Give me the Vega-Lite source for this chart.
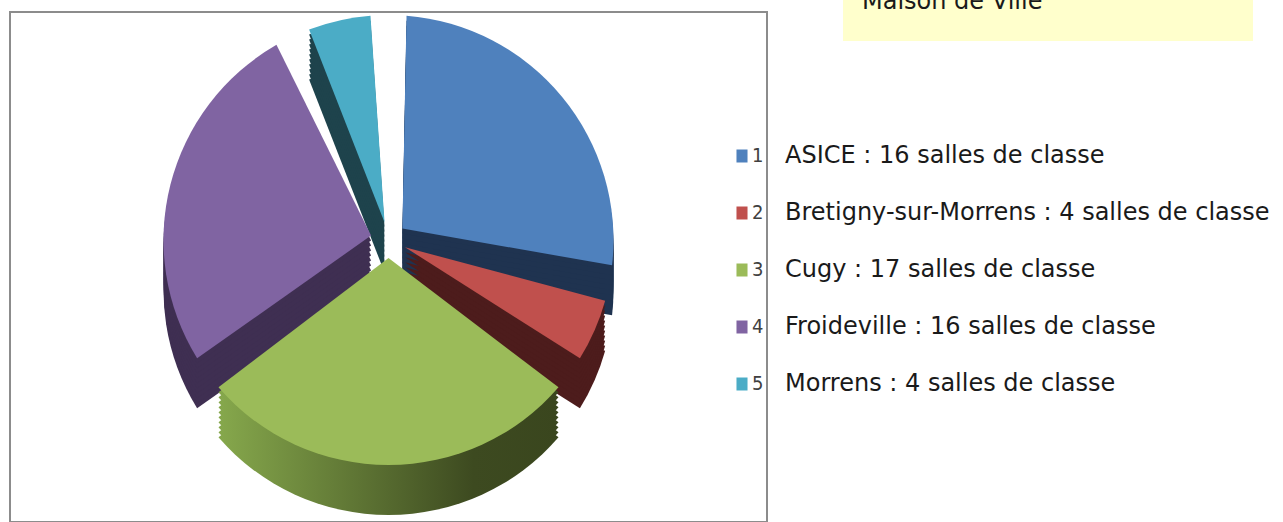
{
  "$schema": "https://vega.github.io/schema/vega-lite/v6.json",
  "width": 757,
  "height": 510,
  "autosize": {"type": "none"},
  "padding": {"left": 10, "top": 12, "right": 516, "bottom": 0},
  "background": "white",
  "view": {"stroke": "#8c8c8c", "strokeWidth": 2},
  "data": {
    "values": [
      {"num": "1", "label": "ASICE : 16 salles de classe", "value": 16},
      {"num": "2", "label": "Bretigny-sur-Morrens : 4 salles de classe", "value": 4},
      {"num": "3", "label": "Cugy : 17 salles de classe", "value": 17},
      {"num": "4", "label": "Froideville : 16 salles de classe", "value": 16},
      {"num": "5", "label": "Morrens : 4 salles de classe", "value": 4}
    ]
  },
  "encoding": {
    "theta": {"field": "value", "type": "quantitative", "stack": true},
    "order": {"field": "num", "type": "ordinal"}
  },
  "layer": [
    {
      "mark": {"type": "arc", "outerRadius": 225, "innerRadius": 18, "padAngle": 0.16, "yOffset": 23},
      "encoding": {
        "fill": {
          "field": "label", "type": "nominal",
          "condition": {"test": "datum.num === '3'", "value": {"gradient": "linear", "x1": 0, "y1": 0, "x2": 1, "y2": 0, "stops": [{"offset": 0, "color": "#86A84C"}, {"offset": 0.75, "color": "#3D4A20"}, {"offset": 1, "color": "#3A461E"}]}},
          "scale": {"domain": ["ASICE : 16 salles de classe", "Bretigny-sur-Morrens : 4 salles de classe", "Cugy : 17 salles de classe", "Froideville : 16 salles de classe", "Morrens : 4 salles de classe"], "range": ["#1F3350", "#4D1C1C", "#5A7232", "#3F2F52", "#1E434C"]},
          "legend": {"title": null, "orient": "none", "legendX": 751, "legendY": 132, "symbolOpacity": 0, "symbolSize": 0, "symbolStrokeWidth": 0, "labelOffset": 0, "labelFont": "DejaVu Sans", "labelFontSize": 24, "labelColor": "#1a1a1a", "labelLimit": 800, "rowPadding": 33}
        }
      }
    },
    {
      "mark": {"type": "arc", "outerRadius": 225, "innerRadius": 18, "padAngle": 0.16, "yOffset": 18},
      "encoding": {"fill": {"field": "label", "type": "nominal", "condition": {"test": "datum.num === '3'", "value": {"gradient": "linear", "x1": 0, "y1": 0, "x2": 1, "y2": 0, "stops": [{"offset": 0, "color": "#86A84C"}, {"offset": 0.75, "color": "#3D4A20"}, {"offset": 1, "color": "#3A461E"}]}}}}
    },
    {
      "mark": {"type": "arc", "outerRadius": 225, "innerRadius": 18, "padAngle": 0.16, "yOffset": 13},
      "encoding": {"fill": {"field": "label", "type": "nominal", "condition": {"test": "datum.num === '3'", "value": {"gradient": "linear", "x1": 0, "y1": 0, "x2": 1, "y2": 0, "stops": [{"offset": 0, "color": "#86A84C"}, {"offset": 0.75, "color": "#3D4A20"}, {"offset": 1, "color": "#3A461E"}]}}}}
    },
    {
      "mark": {"type": "arc", "outerRadius": 225, "innerRadius": 18, "padAngle": 0.16, "yOffset": 8},
      "encoding": {"fill": {"field": "label", "type": "nominal", "condition": {"test": "datum.num === '3'", "value": {"gradient": "linear", "x1": 0, "y1": 0, "x2": 1, "y2": 0, "stops": [{"offset": 0, "color": "#86A84C"}, {"offset": 0.75, "color": "#3D4A20"}, {"offset": 1, "color": "#3A461E"}]}}}}
    },
    {
      "mark": {"type": "arc", "outerRadius": 225, "innerRadius": 18, "padAngle": 0.16, "yOffset": 3},
      "encoding": {"fill": {"field": "label", "type": "nominal", "condition": {"test": "datum.num === '3'", "value": {"gradient": "linear", "x1": 0, "y1": 0, "x2": 1, "y2": 0, "stops": [{"offset": 0, "color": "#86A84C"}, {"offset": 0.75, "color": "#3D4A20"}, {"offset": 1, "color": "#3A461E"}]}}}}
    },
    {
      "mark": {"type": "arc", "outerRadius": 225, "innerRadius": 18, "padAngle": 0.16, "yOffset": -2},
      "encoding": {"fill": {"field": "label", "type": "nominal", "condition": {"test": "datum.num === '3'", "value": {"gradient": "linear", "x1": 0, "y1": 0, "x2": 1, "y2": 0, "stops": [{"offset": 0, "color": "#86A84C"}, {"offset": 0.75, "color": "#3D4A20"}, {"offset": 1, "color": "#3A461E"}]}}}}
    },
    {
      "mark": {"type": "arc", "outerRadius": 225, "innerRadius": 18, "padAngle": 0.16, "yOffset": -7},
      "encoding": {"fill": {"field": "label", "type": "nominal", "condition": {"test": "datum.num === '3'", "value": {"gradient": "linear", "x1": 0, "y1": 0, "x2": 1, "y2": 0, "stops": [{"offset": 0, "color": "#86A84C"}, {"offset": 0.75, "color": "#3D4A20"}, {"offset": 1, "color": "#3A461E"}]}}}}
    },
    {
      "mark": {"type": "arc", "outerRadius": 225, "innerRadius": 18, "padAngle": 0.16, "yOffset": -12},
      "encoding": {"fill": {"field": "label", "type": "nominal", "condition": {"test": "datum.num === '3'", "value": {"gradient": "linear", "x1": 0, "y1": 0, "x2": 1, "y2": 0, "stops": [{"offset": 0, "color": "#86A84C"}, {"offset": 0.75, "color": "#3D4A20"}, {"offset": 1, "color": "#3A461E"}]}}}}
    },
    {
      "mark": {"type": "arc", "outerRadius": 225, "innerRadius": 18, "padAngle": 0.16, "yOffset": -17},
      "encoding": {"fill": {"field": "label", "type": "nominal", "condition": {"test": "datum.num === '3'", "value": {"gradient": "linear", "x1": 0, "y1": 0, "x2": 1, "y2": 0, "stops": [{"offset": 0, "color": "#86A84C"}, {"offset": 0.75, "color": "#3D4A20"}, {"offset": 1, "color": "#3A461E"}]}}}}
    },
    {
      "mark": {"type": "arc", "outerRadius": 225, "innerRadius": 18, "padAngle": 0.16, "yOffset": -22},
      "encoding": {"fill": {"field": "label", "type": "nominal", "condition": {"test": "datum.num === '3'", "value": {"gradient": "linear", "x1": 0, "y1": 0, "x2": 1, "y2": 0, "stops": [{"offset": 0, "color": "#86A84C"}, {"offset": 0.75, "color": "#3D4A20"}, {"offset": 1, "color": "#3A461E"}]}}}}
    },
    {
      "mark": {"type": "arc", "outerRadius": 225, "innerRadius": 18, "padAngle": 0.16, "yOffset": -27, "strokeWidth": 0},
      "encoding": {
        "color": {
          "field": "num", "type": "nominal",
          "scale": {"domain": ["1", "2", "3", "4", "5"], "range": ["#4F81BD", "#C0504D", "#9BBB59", "#8064A2", "#4BACC6"]},
          "legend": {"title": null, "orient": "none", "legendX": 722, "legendY": 134, "symbolType": "M-0.85,-1H0.85V1H-0.85Z", "symbolSize": 169, "symbolStrokeWidth": 0, "labelFont": "'Liberation Sans Narrow', 'DejaVu Sans Condensed', 'Liberation Sans', sans-serif", "labelFontSize": 20, "labelColor": "#404040", "labelOffset": 0, "rowPadding": 37}
        },
        "stroke": {
          "datum": "Maison de Ville", "type": "nominal",
          "scale": {"range": ["#ffffff"]},
          "legend": {"title": null, "orient": "none", "legendX": 833, "legendY": -49, "fillColor": "#FFFFCC", "padding": 27, "symbolOpacity": 0, "symbolSize": 0, "symbolStrokeWidth": 0, "labelOffset": -32, "labelFont": "DejaVu Sans", "labelFontSize": 24, "labelColor": "#1a1a1a", "labelLimit": 800, "labelExpr": "datum.label + '\u00a0\u00a0\u00a0\u00a0\u00a0\u00a0\u00a0\u00a0\u00a0\u00a0\u00a0\u00a0\u00a0\u00a0\u00a0\u00a0\u00a0\u00a0\u00a0\u00a0\u00a0\u00a0\u00a0\u00a0\u200b'"}
        }
      }
    }
  ]
}
